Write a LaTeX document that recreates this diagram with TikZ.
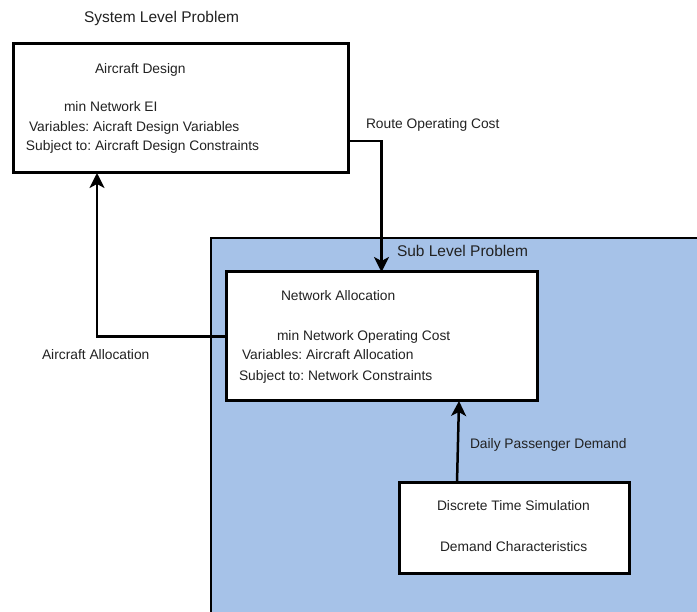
\documentclass[tikz,border=0pt]{standalone}
\usepackage{fontspec}
\setmainfont{Liberation Sans}
\usetikzlibrary{arrows.meta,calc}
\definecolor{subblue}{HTML}{A6C2E8}
\definecolor{txt}{HTML}{222222}
\frenchspacing
\tikzset{
  box/.style={draw=black, fill=white, line width=3pt, inner sep=0pt, outer sep=0pt, anchor=north west},
  lbl/.style={inner sep=0pt, outer sep=0pt, anchor=base west, text=txt, font=\fontsize{13.8}{16}\selectfont},
  ttl/.style={inner sep=0pt, outer sep=0pt, anchor=base west, text=txt, font=\fontsize{15.5}{18}\selectfont},
  flow/.style={draw=black, line width=2.5pt, -{Stealth[length=15pt,width=15pt,inset=4pt]}}
}
\begin{document}
\begin{tikzpicture}[x=1pt,y=-1pt]
\useasboundingbox (0,0) rectangle (697,612);
\clip (0,0) rectangle (697,612);
\fill[white] (0,0) rectangle (697,612);

% sub level region
\draw[fill=subblue, line width=2pt] (211,238) rectangle (720,640);
\node[ttl] (subttl) at (397,257) {Sub Level Problem};

% system level title
\node[ttl] (systtl) at (84,23) {System Level Problem};

% boxes
\node[box, minimum width=335pt, minimum height=129pt] (design) at (13,44) {};
\node[box, minimum width=311pt, minimum height=129pt] (net) at (226,272) {};
\node[box, minimum width=230pt, minimum height=90pt] (disc) at (399,483) {};

% aircraft design text
\node[lbl] (d1) at (95,74) {Aircraft Design};
\node[lbl] (d2) at (64,112) {min Network EI};
\node[lbl] (d3) at (29,132) {Variables: Aicraft Design Variables};
\node[lbl] (d4) at (26,151) {Subject to: Aircraft Design Constraints};

% network allocation text
\node[lbl] (n1) at (281,301) {Network Allocation};
\node[lbl] (n2) at (277,341) {min Network Operating Cost};
\node[lbl] (n3) at (242,360) {Variables: Aircraft Allocation};
\node[lbl] (n4) at (239,381) {Subject to: Network Constraints};

% simulation text
\node[lbl] (s1) at (437,511) {Discrete Time Simulation};
\node[lbl] (s2) at (440,551) {Demand Characteristics};

% connector labels
\node[lbl] (l1) at (366,129) {Route Operating Cost};
\node[lbl] (l2) at (42,360) {Aircraft Allocation};
\node[lbl] (l3) at (470,449) {Daily Passenger Demand};

% connectors
\draw[flow] ($(design.south east)+(0,-32)$) -| (net.north);
\draw[flow] (net.west) -| ($(design.south west)+(84,0)$);
\draw[flow] ($(disc.north west)+(58,0)$) -- ($(net.south east)+(-78,0)$);
\end{tikzpicture}
\end{document}
